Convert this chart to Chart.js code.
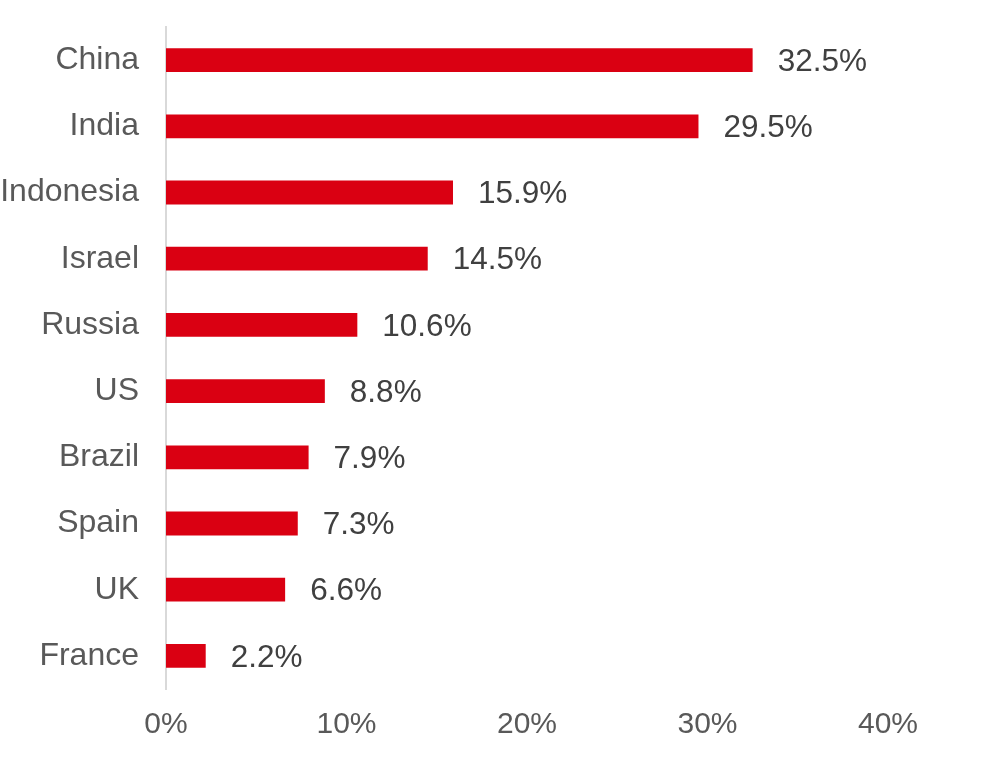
<!DOCTYPE html>
<html>
<head>
<meta charset="utf-8">
<script src="https://cdn.jsdelivr.net/npm/chart.js@4/dist/chart.umd.min.js"></script>
<style>
  html, body { margin: 0; padding: 0; background: #fff; }
  #wrap { width: 981px; height: 763px; position: relative; }
</style>
</head>
<body>
<div id="wrap"><canvas id="barChart"></canvas></div>
<script>
// data
const countries = ["China", "India", "Indonesia", "Israel", "Russia", "US", "Brazil", "Spain", "UK", "France"];
const shares = [32.5, 29.5, 15.9, 14.5, 10.6, 8.8, 7.9, 7.3, 6.6, 2.2];
const xTicks = [0, 10, 20, 30, 40];

const FONT = "'Liberation Sans', Arial, sans-serif";

// draws the value next to each bar
const valueLabels = {
    id: 'valueLabels',
    afterDatasetsDraw(chart) {
        const ctx = chart.ctx;
        const meta = chart.getDatasetMeta(0);
        ctx.save();
        ctx.font = "31.5px " + FONT;
        ctx.fillStyle = "#404040";
        ctx.textAlign = "left";
        ctx.textBaseline = "middle";
        meta.data.forEach((bar, i) => {
            ctx.fillText(shares[i].toFixed(1) + "%", bar.x + 25, bar.y + 2);
        });
        ctx.restore();
    }
};

const ctx = document.getElementById('barChart').getContext('2d');
const barChart = new Chart(ctx, {
    type: 'bar',
    data: {
        labels: countries,
        datasets: [{
            data: shares,
            backgroundColor: '#DA0012',
            barPercentage: 0.36,
            categoryPercentage: 1.0
        }]
    },
    options: {
        indexAxis: 'y',
        responsive: true,
        maintainAspectRatio: false,
        animation: false,
        layout: {
            padding: { top: 27, right: 93, left: 0, bottom: 0 }
        },
        plugins: {
            legend: { display: false },
            tooltip: { enabled: false }
        },
        scales: {
            x: {
                min: 0,
                max: 40,
                afterBuildTicks: (axis) => { axis.ticks = xTicks.map(v => ({ value: v })); },
                grid: { display: false, drawTicks: false },
                border: { display: false },
                ticks: {
                    padding: 18,
                    color: '#595959',
                    font: { family: FONT, size: 30 },
                    callback: (v) => v + '%'
                },
                afterFit: (axis) => {
                    axis.height = 74;
                    axis.paddingLeft = 0;
                    axis.paddingRight = 0;
                }
            },
            y: {
                grid: { display: false, drawTicks: false },
                border: { display: true, color: '#D9D9D9', width: 2 },
                ticks: {
                    padding: 27,
                    color: '#595959',
                    font: { family: FONT, size: 32 }
                },
                afterFit: (axis) => {
                    axis.width = 166;
                    axis.paddingTop = 0;
                    axis.paddingBottom = 0;
                }
            }
        }
    },
    plugins: [valueLabels]
});
</script>
</body>
</html>
